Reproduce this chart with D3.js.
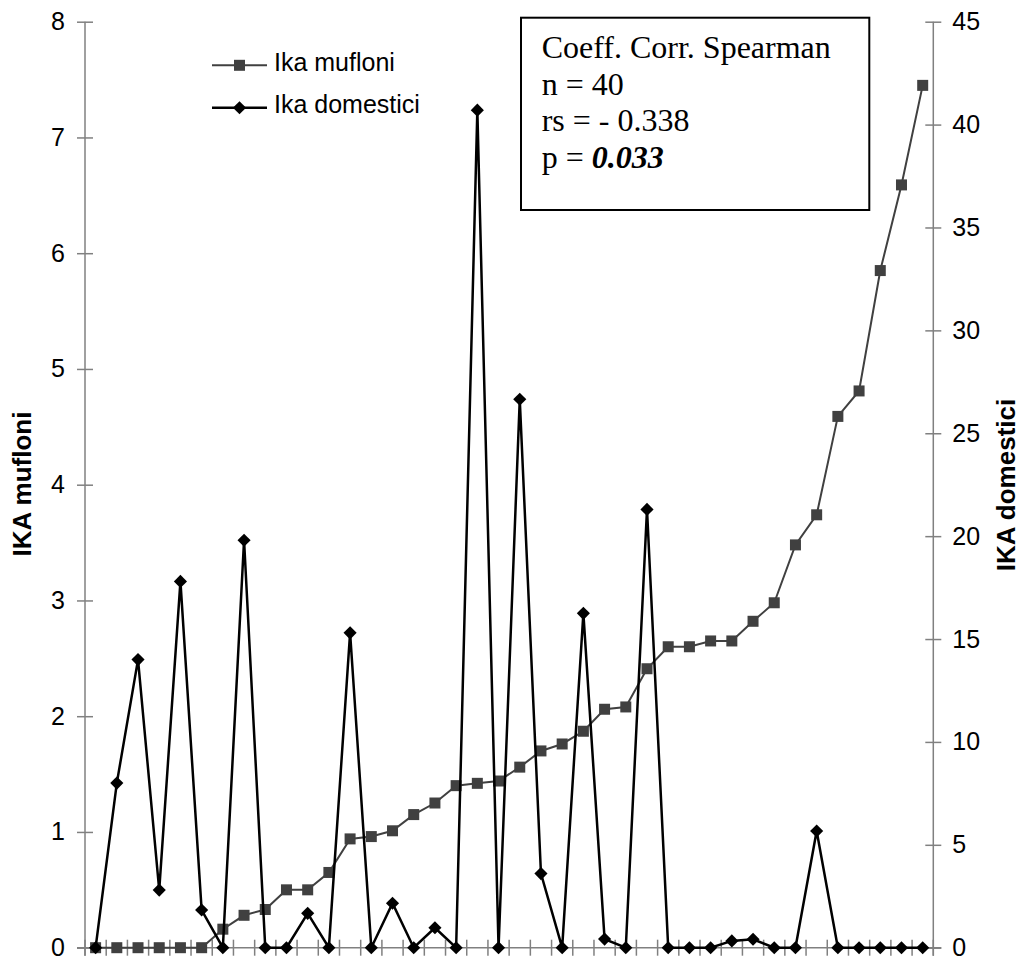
<!DOCTYPE html>
<html>
<head>
<meta charset="utf-8">
<script src="https://cdn.jsdelivr.net/npm/d3@7"></script>
<style>
  body { margin: 0; background: #fff; }
  svg { display: block; }
</style>
</head>
<body>
<svg class="chart" width="1021" height="958"></svg>
<script>
// values, 40 sampling points sorted by IKA mufloni
var mufloni = [0, 0, 0, 0, 0, 0, 0.16, 0.28, 0.33, 0.50, 0.50, 0.65, 0.94, 0.96, 1.01, 1.15, 1.25, 1.40, 1.42, 1.44,
    1.56, 1.70, 1.76, 1.87, 2.06, 2.08, 2.41, 2.60, 2.60, 2.65, 2.65, 2.82, 2.98, 3.48, 3.74, 4.59, 4.81, 5.85, 6.59, 7.45]
var domestici = [0, 8.0, 14.0, 2.8, 17.8, 1.83, 0, 19.8, 0, 0, 1.67, 0, 15.3, 0, 2.16, 0, 0.97, 0, 40.7, 0,
    26.65, 3.6, 0, 16.25, 0.42, 0, 21.3, 0, 0, 0, 0.33, 0.41, 0, 0, 5.67, 0, 0, 0, 0, 0]
var seriesNames = ["Ika mufloni", "Ika domestici"]
var leftTicks = [0, 1, 2, 3, 4, 5, 6, 7, 8]
var rightTicks = [0, 5, 10, 15, 20, 25, 30, 35, 40, 45]
var statLines = ["Coeff. Corr. Spearman", "n = 40", "rs = - 0.338"]
var pValue = "0.033"

// plot area (window.top is read-only, so no "top" here)
var plotL = 85, plotR = 933.3, plotT = 21.7, plotB = 947.7

var chart = d3.select(".chart")
    .style("font-family", "'Liberation Sans', Arial, sans-serif")

var x = d3.scaleBand()
    .domain(d3.range(mufloni.length))
    .range([plotL, plotR])

var yLeft = d3.scaleLinear().domain([0, 8]).range([plotB, plotT])
var yRight = d3.scaleLinear().domain([0, 45]).range([plotB, plotT])

var cx = i => x(i) + x.bandwidth() / 2

// axes
var axisColor = "#808080"

var gl = chart.append("g")
    .attr("transform", `translate(${plotL},0)`)
    .call(d3.axisLeft(yLeft).tickValues(leftTicks).tickSize(8).tickPadding(12).tickFormat(d3.format("d")))
gl.select(".domain").remove()
gl.selectAll(".tick line").attr("x1", 8).attr("stroke", axisColor).attr("stroke-width", 1.5)
gl.selectAll(".tick text").attr("font-size", 25).attr("font-family", "'Liberation Sans', Arial, sans-serif").attr("fill", "#000")

var gr = chart.append("g")
    .attr("transform", `translate(${plotR},0)`)
    .call(d3.axisRight(yRight).tickValues(rightTicks).tickSize(8).tickPadding(11).tickFormat(d3.format("d")))
gr.select(".domain").remove()
gr.selectAll(".tick line").attr("x1", -8).attr("stroke", axisColor).attr("stroke-width", 1.5)
gr.selectAll(".tick text").attr("font-size", 25).attr("font-family", "'Liberation Sans', Arial, sans-serif").attr("fill", "#000")

// axis lines
chart.append("line").attr("x1", plotL).attr("x2", plotL).attr("y1", plotT).attr("y2", plotB + 8)
    .attr("stroke", axisColor).attr("stroke-width", 1.5)
chart.append("line").attr("x1", plotR).attr("x2", plotR).attr("y1", plotT).attr("y2", plotB + 8)
    .attr("stroke", axisColor).attr("stroke-width", 1.5)
chart.append("line").attr("x1", plotL - 8).attr("x2", plotR + 8).attr("y1", plotB).attr("y2", plotB)
    .attr("stroke", axisColor).attr("stroke-width", 1.5)

// category boundary ticks on the bottom axis
chart.append("g").selectAll("line")
    .data(d3.range(mufloni.length + 1))
    .enter().append("line")
    .attr("x1", d => plotL + d * x.step())
    .attr("x2", d => plotL + d * x.step())
    .attr("y1", plotB - 8)
    .attr("y2", plotB + 8)
    .attr("stroke", axisColor)
    .attr("stroke-width", 1.5)

// mufloni series (left axis)
var lineM = d3.line().x((d, i) => cx(i)).y(d => yLeft(d))
chart.append("path").datum(mufloni)
    .attr("d", lineM).attr("fill", "none").attr("stroke", "#404040").attr("stroke-width", 2)
chart.append("g").selectAll("rect")
    .data(mufloni).enter().append("rect")
    .attr("x", (d, i) => cx(i) - 5.5)
    .attr("y", d => yLeft(d) - 5.5)
    .attr("width", 11).attr("height", 11)
    .attr("fill", "#404040")

// domestici series (right axis)
var diamond = d3.symbol().type(d3.symbolDiamond2).size(110)
var lineD = d3.line().x((d, i) => cx(i)).y(d => yRight(d))
chart.append("path").datum(domestici)
    .attr("d", lineD).attr("fill", "none").attr("stroke", "#000").attr("stroke-width", 2.5)
chart.append("g").selectAll("path")
    .data(domestici).enter().append("path")
    .attr("d", diamond)
    .attr("transform", (d, i) => `translate(${cx(i)},${yRight(d)})`)
    .attr("fill", "#000")

// axis titles
chart.append("text")
    .attr("transform", "translate(22,484) rotate(-90)")
    .attr("text-anchor", "middle").attr("dy", "0.35em")
    .attr("font-size", 26).attr("font-weight", "bold")
    .text("IKA mufloni")
chart.append("text")
    .attr("transform", "translate(1006,485) rotate(-90)")
    .attr("text-anchor", "middle").attr("dy", "0.35em")
    .attr("font-size", 26).attr("font-weight", "bold")
    .text("IKA domestici")

// legend
var legend = chart.append("g").selectAll("g")
    .data(seriesNames).enter().append("g")
    .attr("transform", (d, i) => `translate(212,${65.3 + i * 42.4})`)
legend.append("line").attr("x1", 0).attr("x2", 55)
    .attr("stroke", (d, i) => i ? "#000" : "#404040")
    .attr("stroke-width", (d, i) => i ? 2.5 : 2)
legend.filter((d, i) => i == 0).append("rect")
    .attr("x", 22).attr("y", -5.5).attr("width", 11).attr("height", 11).attr("fill", "#404040")
legend.filter((d, i) => i == 1).append("path")
    .attr("d", diamond).attr("transform", "translate(27.5,0)").attr("fill", "#000")
legend.append("text")
    .attr("x", 62).attr("y", 5.4)
    .attr("font-size", 25)
    .text(d => d)

// statistics box
chart.append("rect")
    .attr("x", 521).attr("y", 17.7).attr("width", 348.3).attr("height", 192.3)
    .attr("fill", "#fff").attr("stroke", "#000").attr("stroke-width", 2)
var box = chart.append("g")
    .attr("font-family", "'Liberation Serif', 'Times New Roman', serif")
    .attr("font-size", 32)
box.selectAll("text.line")
    .data(statLines).enter().append("text")
    .attr("class", "line")
    .attr("x", 541.7)
    .attr("y", (d, i) => 58.3 + i * 36.5)
    .text(d => d)
var pt = box.append("text").attr("x", 541.7).attr("y", 58.3 + 3 * 36.5)
pt.append("tspan").text("p = ")
pt.append("tspan").attr("font-weight", "bold").attr("font-style", "italic").text(pValue)
</script>
</body>
</html>
